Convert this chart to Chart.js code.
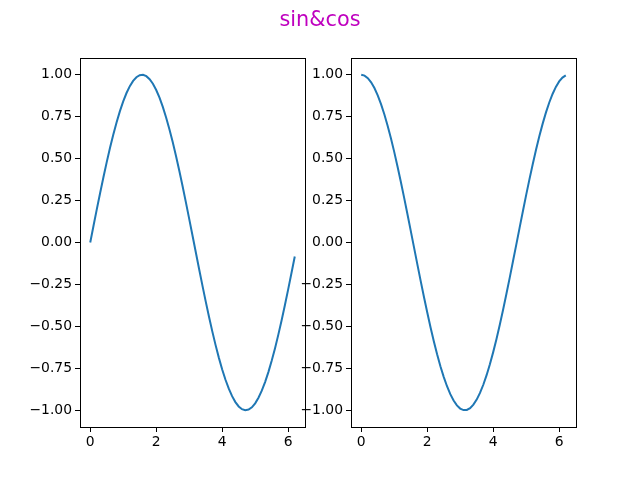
<!DOCTYPE html>
<html>
<head>
<meta charset="utf-8">
<script src="https://cdn.jsdelivr.net/npm/chart.js@4"></script>
<style>
  body { margin: 0; background: #fff; }
  #wrap { position: relative; width: 640px; height: 480px; }
  canvas { position: absolute; left: 0; top: 0; }
  #title {
    position: absolute; left: 0; top: 6px; width: 640px; text-align: center;
    font-family: "DejaVu Sans", sans-serif; font-size: 20.8px; line-height: 26px; color: #bf00bf;
  }
</style>
</head>
<body>
<div id="wrap">
  <canvas id="sinChart" width="640" height="480"></canvas>
  <canvas id="cosChart" width="640" height="480"></canvas>
  <div id="title">sin&amp;cos</div>
</div>
<script>
const xValues = [0.0, 0.1, 0.2, 0.3, 0.4, 0.5, 0.6, 0.7, 0.8, 0.9,
  1.0, 1.1, 1.2, 1.3, 1.4, 1.5, 1.6, 1.7, 1.8, 1.9,
  2.0, 2.1, 2.2, 2.3, 2.4, 2.5, 2.6, 2.7, 2.8, 2.9,
  3.0, 3.1, 3.2, 3.3, 3.4, 3.5, 3.6, 3.7, 3.8, 3.9,
  4.0, 4.1, 4.2, 4.3, 4.4, 4.5, 4.6, 4.7, 4.8, 4.9,
  5.0, 5.1, 5.2, 5.3, 5.4, 5.5, 5.6, 5.7, 5.8, 5.9,
  6.0, 6.1, 6.2];

const sinValues = [0.000, 0.0998, 0.1987, 0.2955, 0.3894, 0.4794, 0.5646, 0.6442, 0.7174, 0.7833,
  0.8415, 0.8912, 0.9320, 0.9636, 0.9854, 0.9975, 0.9996, 0.9917, 0.9738, 0.9463,
  0.9093, 0.8632, 0.8085, 0.7457, 0.6755, 0.5985, 0.5155, 0.4274, 0.3350, 0.2392,
  0.1411, 0.0416, -0.0584, -0.1577, -0.2555, -0.3508, -0.4425, -0.5298, -0.6119, -0.6878,
  -0.7568, -0.8183, -0.8716, -0.9162, -0.9516, -0.9775, -0.9937, -0.9999, -0.9962, -0.9825,
  -0.9589, -0.9258, -0.8835, -0.8323, -0.7728, -0.7055, -0.6313, -0.5507, -0.4646, -0.3739,
  -0.2794, -0.1822, -0.0831];

const cosValues = [1.000, 0.9950, 0.9801, 0.9553, 0.9211, 0.8776, 0.8253, 0.7648, 0.6967, 0.6216,
  0.5403, 0.4536, 0.3624, 0.2675, 0.1700, 0.0707, -0.0292, -0.1288, -0.2272, -0.3233,
  -0.4161, -0.5048, -0.5885, -0.6663, -0.7374, -0.8011, -0.8569, -0.9041, -0.9422, -0.9710,
  -0.9900, -0.9991, -0.9983, -0.9875, -0.9668, -0.9365, -0.8968, -0.8481, -0.7910, -0.7259,
  -0.6536, -0.5748, -0.4903, -0.4008, -0.3073, -0.2108, -0.1122, -0.0124, 0.0875, 0.1865,
  0.2837, 0.3780, 0.4685, 0.5544, 0.6347, 0.7087, 0.7756, 0.8347, 0.8855, 0.9275,
  0.9602, 0.9833, 0.9965];

const xTicks = [0, 2, 4, 6];
const yTicks = [-1.00, -0.75, -0.50, -0.25, 0.00, 0.25, 0.50, 0.75, 1.00];

const tickFont = { family: 'DejaVu Sans', size: 13.9 };

// draws the full box around the plot area, like matplotlib
const frame = {
    id: 'frame',
    afterDraw(chart) {
        const { ctx, chartArea: a } = chart;
        ctx.save();
        ctx.strokeStyle = '#000';
        ctx.lineWidth = 1;
        ctx.strokeRect(Math.round(a.left) + 0.5, Math.round(a.top) + 0.5,
            Math.round(a.right - a.left), Math.round(a.bottom - a.top));
        ctx.restore();
    }
};

function makeChart(id, values, left, right) {
    const ctx = document.getElementById(id).getContext('2d');
    return new Chart(ctx, {
        type: 'line',
        data: {
            datasets: [{
                data: xValues.map((x, i) => ({ x: x, y: values[i] })),
                borderColor: '#1f77b4',
                borderWidth: 2,
                pointRadius: 0,
                tension: 0,
                fill: false
            }]
        },
        options: {
            responsive: false,
            animation: false,
            events: [],
            layout: { padding: { left: 0, right: 640 - right, top: 58, bottom: 0 } },
            plugins: { legend: { display: false }, tooltip: { enabled: false } },
            scales: {
                x: {
                    type: 'linear',
                    min: -0.31,
                    max: 6.51,
                    afterBuildTicks: s => { s.ticks = xTicks.map(v => ({ value: v })); },
                    afterFit: s => { s.height = 53; },
                    grid: { drawOnChartArea: false, tickLength: 5, color: '#000' },
                    border: { display: false },
                    ticks: { color: '#000', font: tickFont, padding: 2, maxRotation: 0,
                        callback: v => String(v) }
                },
                y: {
                    min: -1.1,
                    max: 1.1,
                    afterBuildTicks: s => { s.ticks = yTicks.map(v => ({ value: v })); },
                    afterFit: s => { s.width = left; },
                    grid: { drawOnChartArea: false, tickLength: 5, color: '#000' },
                    border: { display: false },
                    ticks: { color: '#000', font: tickFont, padding: 3,
                        callback: v => v.toFixed(2).replace('-', '\u2212') }
                }
            }
        },
        plugins: [frame]
    });
}

makeChart('sinChart', sinValues, 80, 305);
makeChart('cosChart', cosValues, 351, 576);
</script>
</body>
</html>
